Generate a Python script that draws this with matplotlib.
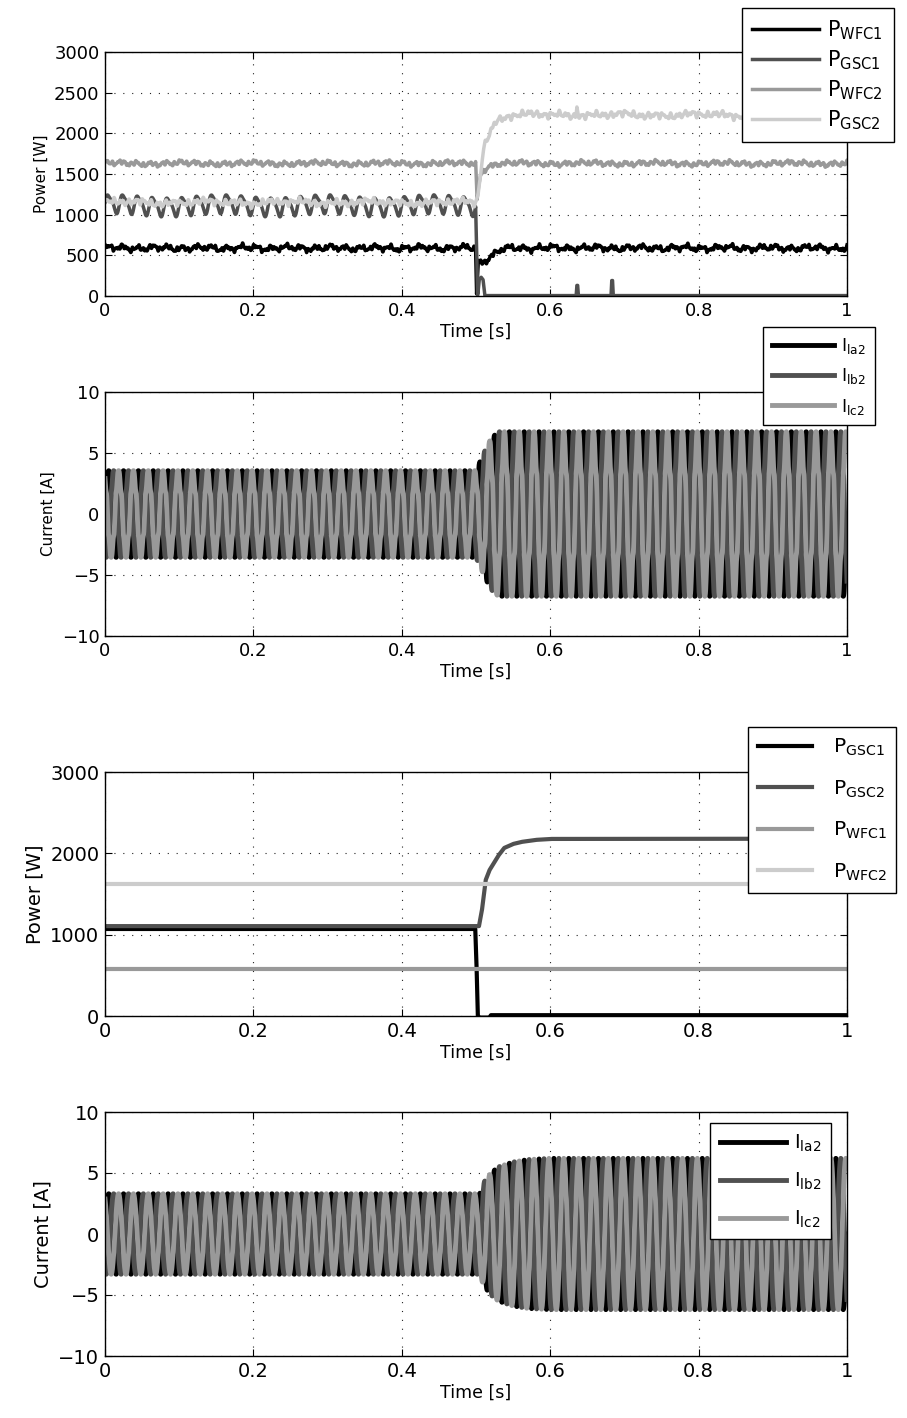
import numpy as np
import matplotlib
matplotlib.use("Agg")
import matplotlib.pyplot as plt

# ----------------------------
# Datos
# ----------------------------

t = np.linspace(0, 1, 6001)
xticks = [0, 0.2, 0.4, 0.6, 0.8, 1]
xtick_labels = ["0", "0.2", "0.4", "0.6", "0.8", "1"]

# Panel 1 - potencias medidas (puntos de quiebre del valor medio)
wfc1_t = [0, 0.4995, 0.5008, 0.503, 0.51, 0.519, 0.532, 0.55, 1]
wfc1_p = [590, 590, 20, 405, 430, 480, 565, 590, 590]
gsc1_t = [0, 0.4995, 0.5022, 0.5045, 0.507, 0.5095, 0.512, 0.635, 0.636, 0.637, 0.638, 0.682, 0.683, 0.684, 0.685, 1]
gsc1_p = [1120, 1120, 0, 210, 230, 200, 5, 5, 130, 130, 5, 5, 190, 190, 5, 5]
wfc2_t = [0, 0.4995, 0.5015, 0.506, 0.515, 0.53, 1]
wfc2_p = [1630, 1630, 1180, 1510, 1590, 1630, 1630]
gsc2_t = [0, 0.5, 0.503, 0.51, 0.519, 0.528, 0.546, 0.634, 0.636, 0.638, 1]
gsc2_p = [1150, 1150, 1270, 1830, 2020, 2160, 2226, 2226, 2370, 2226, 2226]

# rizado (frecuencia Hz, amplitud W, fase rad)
wfc1_rip = [(50, 22, 0.3), (135, 15, 1.1), (215, 12, 2.0), (330, 8, 0.7), (17, 10, 0.2)]
gsc1_rip = [(50, 105, 0.0), (100, 30, 0.6), (7, 20, 1.0)]
gsc1_rip_t = [0, 0.499, 0.502, 1]
gsc1_rip_g = [1, 1, 0, 0]
wfc2_rip = [(50, 16, 1.0), (120, 15, 0.4), (190, 11, 2.5), (290, 8, 1.7), (11, 10, 0.6)]
gsc2_rip = [(100, 22, 0.2), (160, 15, 1.3), (240, 12, 2.2), (23, 14, 0.9), (9, 12, 0.1)]

# Panel 2 - corrientes medidas
f_grid = 50
i2_env_t = [0, 0.5, 0.51, 0.52, 0.53, 1]
i2_env_a = [3.45, 3.45, 4.8, 6.0, 6.55, 6.55]
i2_harm = [(250, 0.25), (350, 0.15)]

# Panel 3 - potencias de referencia
ref_gsc1_t = [0, 0.499, 0.5005, 0.5025, 0.504, 0.518, 0.52, 1]
ref_gsc1_p = [1070, 1070, 700, 0, -20, -20, 10, 10]
ref_gsc2_t = [0, 0.504, 0.508, 0.513, 0.518, 0.524, 0.53, 0.538, 0.55, 0.561, 0.58, 0.6, 1]
ref_gsc2_p = [1105, 1105, 1300, 1670, 1790, 1880, 1970, 2066, 2115, 2140, 2165, 2177, 2180]
ref_wfc1 = 578
ref_wfc2 = 1623

# Panel 4 - corrientes de referencia
i4_env_t = [0, 0.505, 0.51, 0.52, 0.53, 0.55, 0.57, 0.6, 1]
i4_env_a = [3.3, 3.3, 4.2, 5.0, 5.5, 5.9, 6.1, 6.2, 6.2]

c_black = "#000000"
c_dark = "#505050"
c_mid = "#999999"
c_light = "#cccccc"


def ripple(comps):
    y = np.zeros_like(t)
    for f, a, p in comps:
        y += a * np.sin(2 * np.pi * f * t + p)
    return y


def phase(env_t, env_a, shift, harm):
    a = np.interp(t, env_t, env_a)
    w = 2 * np.pi * f_grid * t + shift
    y = np.sin(w)
    for f, h in harm:
        y += h / 3.4 * np.sin(2 * np.pi * f * t + shift * f / f_grid)
    return a * y


def style_axes(ax, ylim, yticks, fs_tick, ylabel, fs_ylab):
    ax.set_xlim(0, 1)
    ax.set_ylim(*ylim)
    ax.set_xticks(xticks)
    ax.set_xticklabels(xtick_labels)
    ax.set_yticks(yticks)
    ax.tick_params(direction="in", top=True, right=True, length=5, width=0.8,
                   labelsize=fs_tick, pad=4)
    ax.grid(True, color="#222222", linestyle=(0, (1, 7)), linewidth=0.8)
    for s in ax.spines.values():
        s.set_linewidth(1.0)
    ax.set_xlabel("Time [s]", fontsize=12.5, labelpad=2)
    ax.set_ylabel(ylabel, fontsize=fs_ylab, labelpad=4)


def put_legend(ax, handles, labels, x0, y0, fs, hl, ls, tp=0.4):
    leg = ax.legend(handles, labels, loc="upper left",
                    bbox_to_anchor=(x0 / 907, 1 - y0 / 1418),
                    bbox_transform=fig.transFigure, borderaxespad=0,
                    fontsize=fs, handlelength=hl, handletextpad=tp,
                    labelspacing=ls, borderpad=0.5, fancybox=False,
                    framealpha=1, edgecolor="black")
    leg.get_frame().set_linewidth(1.0)
    leg.set_zorder(10)
    return leg


plt.rcParams["font.family"] = ["DejaVu Sans"]
plt.rcParams["mathtext.default"] = "regular"

fig = plt.figure(figsize=(9.07, 14.18), dpi=100)
L = 105 / 907
W = (847 - 105) / 907
H = 244 / 1418

# ---------------- Panel 1
ax1 = fig.add_axes([L, 1 - 296 / 1418, W, H])
p_wfc1 = np.interp(t, wfc1_t, wfc1_p) + ripple(wfc1_rip)
p_gsc1 = np.interp(t, gsc1_t, gsc1_p) + np.interp(t, gsc1_rip_t, gsc1_rip_g) * ripple(gsc1_rip)
p_wfc2 = np.interp(t, wfc2_t, wfc2_p) + ripple(wfc2_rip)
p_gsc2 = np.interp(t, gsc2_t, gsc2_p) + ripple(gsc2_rip)
lw1 = 2.5
h1 = ax1.plot(t, p_wfc1, color=c_black, lw=lw1)[0]
h2 = ax1.plot(t, p_gsc1, color=c_dark, lw=lw1)[0]
h3 = ax1.plot(t, p_wfc2, color=c_mid, lw=lw1)[0]
h4 = ax1.plot(t, p_gsc2, color=c_light, lw=lw1)[0]
style_axes(ax1, (0, 3000), np.arange(0, 3001, 500), 13, "Power [W]", 11)
put_legend(ax1, [h1, h2, h3, h4],
           ["P$_{WFC1}$", "P$_{GSC1}$", "P$_{WFC2}$", "P$_{GSC2}$"],
           742, 8, 15, 3.2, 0.3)

# ---------------- Panel 2
ax2 = fig.add_axes([L, 1 - 636 / 1418, W, H])
lw2 = 3.5
ia = phase(i2_env_t, i2_env_a, 0.0, i2_harm)
ib = phase(i2_env_t, i2_env_a, -2 * np.pi / 3, i2_harm)
ic = phase(i2_env_t, i2_env_a, 2 * np.pi / 3, i2_harm)
g1 = ax2.plot(t, ia, color=c_black, lw=lw2)[0]
g2 = ax2.plot(t, ib, color=c_dark, lw=lw2)[0]
g3 = ax2.plot(t, ic, color=c_mid, lw=lw2)[0]
style_axes(ax2, (-10, 10), [-10, -5, 0, 5, 10], 13, "Current [A]", 11)
put_legend(ax2, [g1, g2, g3], ["I$_{la2}$", "I$_{lb2}$", "I$_{lc2}$"],
           763, 327, 12.5, 3.6, 0.6)

# ---------------- Panel 3
ax3 = fig.add_axes([L, 1 - 1016 / 1418, W, H])
lw3 = 3.0
k1 = ax3.plot(t, np.interp(t, ref_gsc1_t, ref_gsc1_p), color=c_black, lw=lw3)[0]
k2 = ax3.plot(t, np.interp(t, ref_gsc2_t, ref_gsc2_p), color=c_dark, lw=lw3)[0]
k3 = ax3.plot(t, np.full_like(t, ref_wfc1), color=c_mid, lw=lw3)[0]
k4 = ax3.plot(t, np.full_like(t, ref_wfc2), color=c_light, lw=lw3)[0]
style_axes(ax3, (0, 3000), [0, 1000, 2000, 3000], 14, "Power [W]", 14)
put_legend(ax3, [k1, k2, k3, k4],
           ["P$_{GSC1}$", "P$_{GSC2}$", "P$_{WFC1}$", "P$_{WFC2}$"],
           748, 727, 14.5, 2.7, 1.0, tp=1.0)

# ---------------- Panel 4
ax4 = fig.add_axes([L, 1 - 1356 / 1418, W, H])
lw4 = 3.5
ra = phase(i4_env_t, i4_env_a, 0.0, [])
rb = phase(i4_env_t, i4_env_a, -2 * np.pi / 3, [])
rc = phase(i4_env_t, i4_env_a, 2 * np.pi / 3, [])
m1 = ax4.plot(t, ra, color=c_black, lw=lw4)[0]
m2 = ax4.plot(t, rb, color=c_dark, lw=lw4)[0]
m3 = ax4.plot(t, rc, color=c_mid, lw=lw4)[0]
style_axes(ax4, (-10, 10), [-10, -5, 0, 5, 10], 14, "Current [A]", 14)
put_legend(ax4, [m1, m2, m3], ["I$_{la2}$", "I$_{lb2}$", "I$_{lc2}$"],
           710, 1123, 14, 3.4, 0.85)

fig.savefig("out.png", dpi=100)
plt.close(fig)
